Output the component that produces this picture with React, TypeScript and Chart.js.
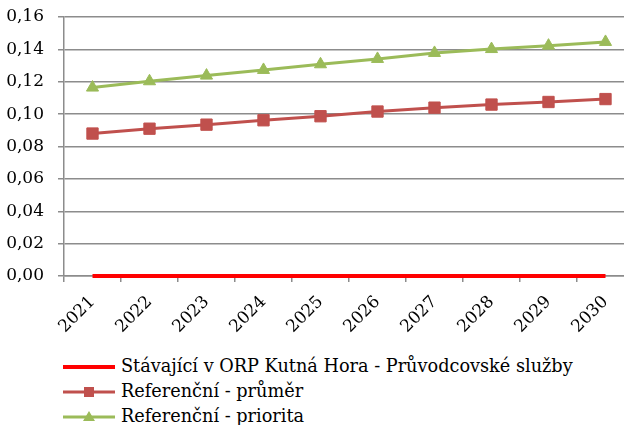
import React, { useEffect, useRef } from "react";
import { Chart, registerables } from "chart.js";

Chart.register(...registerables);

const years = ["2021", "2022", "2023", "2024", "2025", "2026", "2027", "2028", "2029", "2030"];
const stavajici = [0, 0, 0, 0, 0, 0, 0, 0, 0, 0];
const prumer = [0.088, 0.091, 0.0935, 0.0962, 0.0987, 0.1016, 0.104, 0.1059, 0.1075, 0.1093];
const priorita = [0.1164, 0.1203, 0.1238, 0.1273, 0.1308, 0.1341, 0.1378, 0.1402, 0.1423, 0.1446];
const yTicks = { min: 0, max: 0.16, step: 0.02 };

const seriesNames = [
  "Stávající v ORP Kutná Hora - Průvodcovské služby",
  "Referenční - průměr",
  "Referenční - priorita",
];
const colors = ["#FF0000", "#C0504D", "#9BBB59"];

const FONT = "'DejaVu Serif', serif";
const GRID = "#8c8c8c";

export default function App() {
  const ref = useRef<HTMLCanvasElement | null>(null);

  useEffect(() => {
    document.body.style.margin = "0";
    document.body.style.overflow = "hidden";
    const ctx = ref.current!.getContext("2d")!;
    const chart = new Chart(ctx, {
      type: "line",
      data: {
        labels: years,
        datasets: [
          {
            label: seriesNames[0],
            data: stavajici,
            borderColor: colors[0],
            backgroundColor: colors[0],
            borderWidth: 4,
            pointRadius: 0,
            pointHoverRadius: 0,
            clip: false as any,
          },
          {
            label: seriesNames[1],
            data: prumer,
            borderColor: colors[1],
            backgroundColor: colors[1],
            borderWidth: 3,
            pointStyle: "rect",
            pointRadius: 8,
            pointBorderWidth: 1,
            clip: false as any,
          },
          {
            label: seriesNames[2],
            data: priorita,
            borderColor: colors[2],
            backgroundColor: colors[2],
            borderWidth: 3,
            pointStyle: "triangle",
            pointRadius: 7,
            pointBorderWidth: 1,
            clip: false as any,
          },
        ],
      },
      options: {
        animation: false,
        responsive: false,
        maintainAspectRatio: false,
        layout: { padding: { top: 17, right: 0, left: 0, bottom: 0 } },
        plugins: {
          legend: { display: false },
          tooltip: { enabled: false },
          title: { display: false },
        },
        scales: {
          x: {
            type: "category",
            offset: true,
            grid: {
              offset: true,
              drawOnChartArea: false,
              drawTicks: true,
              tickLength: 6,
              color: GRID,
              lineWidth: 1.5,
            },
            border: { display: true, color: GRID, width: 1.5 },
            ticks: {
              color: "#000",
              font: { family: FONT, size: 17 },
              minRotation: 45,
              maxRotation: 45,
              padding: 10,
              autoSkip: false,
            },
            afterFit: (s: any) => {
              s.height = 340 - 276;
            },
          },
          y: {
            min: yTicks.min,
            max: yTicks.max,
            grid: {
              drawTicks: true,
              tickLength: 6,
              color: GRID,
              lineWidth: 1.5,
            },
            border: { display: true, color: GRID, width: 1.5 },
            ticks: {
              stepSize: yTicks.step,
              color: "#000",
              font: { family: FONT, size: 17 },
              padding: 14,
              callback: (v: any) => Number(v).toFixed(2).replace(".", ","),
            },
            afterFit: (s: any) => {
              s.width = 64;
              s.paddingTop = 0;
              s.paddingBottom = 0;
            },
          },
        },
      },
    });
    return () => chart.destroy();
  }, []);

  const legendItem = (i: number) => (
    <div key={i} style={{ display: "flex", alignItems: "center", height: 25 }}>
      <svg width={54} height={20} style={{ flex: "none" }}>
        <line x1={1} y1={10} x2={53} y2={10} stroke={colors[i]} strokeWidth={i === 0 ? 4 : 3} />
        {i === 1 && <rect x={22} y={5} width={10} height={10} fill={colors[1]} />}
        {i === 2 && <polygon points="27,4 33,14 21,14" fill={colors[2]} />}
      </svg>
      <span style={{ marginLeft: 5, whiteSpace: "nowrap" }}>{seriesNames[i]}</span>
    </div>
  );

  return (
    <div
      style={{
        position: "fixed",
        left: 0,
        top: 0,
        width: 624,
        height: 425,
        overflow: "hidden",
        background: "#fff",
        fontFamily: FONT,
      }}
    >
      <canvas ref={ref} width={643} height={340} style={{ position: "absolute", left: 0, top: 0 }} />
      <div
        style={{
          position: "absolute",
          left: 62,
          top: 354,
          fontSize: 17.7,
          color: "#000",
          lineHeight: "25px",
        }}
      >
        {[0, 1, 2].map(legendItem)}
      </div>
    </div>
  );
}
